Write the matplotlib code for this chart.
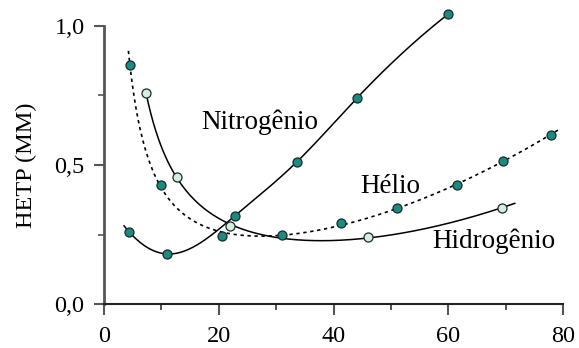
import numpy as np
import matplotlib
matplotlib.use("Agg")
import matplotlib.pyplot as plt

plt.rcParams['font.family'] = ['Liberation Serif', 'DejaVu Serif']

# vazao (x) e HETP (y)
n2_x = [4.4, 11.0, 22.8, 33.6, 44.1, 60.0]
n2_y = [0.259, 0.180, 0.317, 0.511, 0.741, 1.043]
he_x = [4.5, 10.0, 20.5, 31.1, 41.3, 51.1, 61.6, 69.5, 77.9]
he_y = [0.860, 0.428, 0.245, 0.248, 0.291, 0.344, 0.428, 0.515, 0.609]
h2_x = [7.3, 12.8, 22.0, 46.0, 69.4]
h2_y = [0.760, 0.456, 0.281, 0.240, 0.346]

# faixa de cada curva
n2_range = (3.5, 60.0)
he_range = (4.25, 79.4)
h2_range = (7.3, 71.6)

teal = '#1b8a80'
light = '#d6eedd'


def ajuste(x, y, faixa):
    # curva tipo van Deemter: A + B/u + C*u + D*u^2
    x = np.array(x)
    base = lambda u: np.column_stack([np.ones_like(u), 1 / u, u, u ** 2])
    coef = np.linalg.lstsq(base(x), np.array(y), rcond=None)[0]
    u = np.linspace(faixa[0], faixa[1], 300)
    return u, base(u) @ coef


def spline(x, y, faixa):
    # spline cubica pelos pontos (pontas parabolicas)
    x = np.array(x); y = np.array(y)
    n = len(x)
    h = np.diff(x)
    A = np.zeros((n, n)); r = np.zeros(n)
    A[0, 0], A[0, 1] = 1, -1
    A[-1, -1], A[-1, -2] = 1, -1
    for i in range(1, n - 1):
        A[i, i - 1] = h[i - 1]
        A[i, i] = 2 * (h[i - 1] + h[i])
        A[i, i + 1] = h[i]
        r[i] = 6 * ((y[i + 1] - y[i]) / h[i] - (y[i] - y[i - 1]) / h[i - 1])
    M = np.linalg.solve(A, r)
    u = np.linspace(faixa[0], faixa[1], 300)
    k = np.clip(np.searchsorted(x, u) - 1, 0, n - 2)
    a = x[k + 1] - u
    b = u - x[k]
    hk = h[k]
    s = (M[k] * a ** 3 + M[k + 1] * b ** 3) / (6 * hk) \
        + (y[k] / hk - M[k] * hk / 6) * a + (y[k + 1] / hk - M[k + 1] * hk / 6) * b
    return u, s


fig = plt.figure(figsize=(5.79, 3.48), dpi=100)
ax = fig.add_axes([104 / 579, 44 / 348, 459 / 579, 1.08 * 278 / 348])

u, h = spline(n2_x, n2_y, n2_range)
ax.plot(u, h, color='black', lw=1.1, clip_on=False)
u, h = ajuste(he_x, he_y, he_range)
ax.plot(u, h, color='black', lw=1.2, ls=(0, (2, 2.2)), clip_on=False)
u, h = ajuste(h2_x, h2_y, h2_range)
ax.plot(u, h, color='black', lw=1.1, clip_on=False)

ax.plot(n2_x, n2_y, 'o', ms=6.5, mfc=teal, mec='#1a2a28', mew=0.9, clip_on=False)
ax.plot(he_x, he_y, 'o', ms=6.5, mfc=teal, mec='#1a2a28', mew=0.9, clip_on=False)
ax.plot(h2_x, h2_y, 'o', ms=6.5, mfc=light, mec='#1a2a28', mew=0.9, clip_on=False)

ax.text(16.9, 0.628, 'Nitrogênio', fontsize=19.5, ha='left', va='baseline')
ax.text(44.6, 0.399, 'Hélio', fontsize=19.5, ha='left', va='baseline')
ax.text(57.3, 0.200, 'Hidrogênio', fontsize=19.5, ha='left', va='baseline')

ax.set_xlim(0, 80)
ax.set_ylim(0, 1.08)
ax.set_xticks([0, 20, 40, 60, 80])
ax.set_xticks([10, 30, 50, 70], minor=True)
ax.set_yticks([0, 0.5, 1.0])
ax.set_yticklabels(['0,0', '0,5', '1,0'])
ax.set_yticks([0.25, 0.75], minor=True)

for s in ['top', 'right']:
    ax.spines[s].set_visible(False)
ax.spines['left'].set_bounds(0, 1.0)
ax.spines['left'].set_color('#555555')
ax.spines['left'].set_linewidth(2)
ax.spines['bottom'].set_color('#222222')
ax.spines['bottom'].set_linewidth(1.5)

ax.tick_params(axis='x', which='major', length=8, width=1.5, color='#555555',
               labelsize=17.5, pad=8)
ax.tick_params(axis='x', which='minor', length=4, width=1.2, color='#333333')
ax.tick_params(axis='y', which='major', length=7, width=1.5, color='#555555',
               labelsize=17.5, pad=7)
ax.tick_params(axis='y', which='minor', length=4, width=1.2, color='#555555')

ax.set_ylabel('HETP (MM)', fontsize=17.5)
ax.yaxis.set_label_coords(-0.146, 0.5 / 1.08)

fig.savefig('out.png', dpi=100)
